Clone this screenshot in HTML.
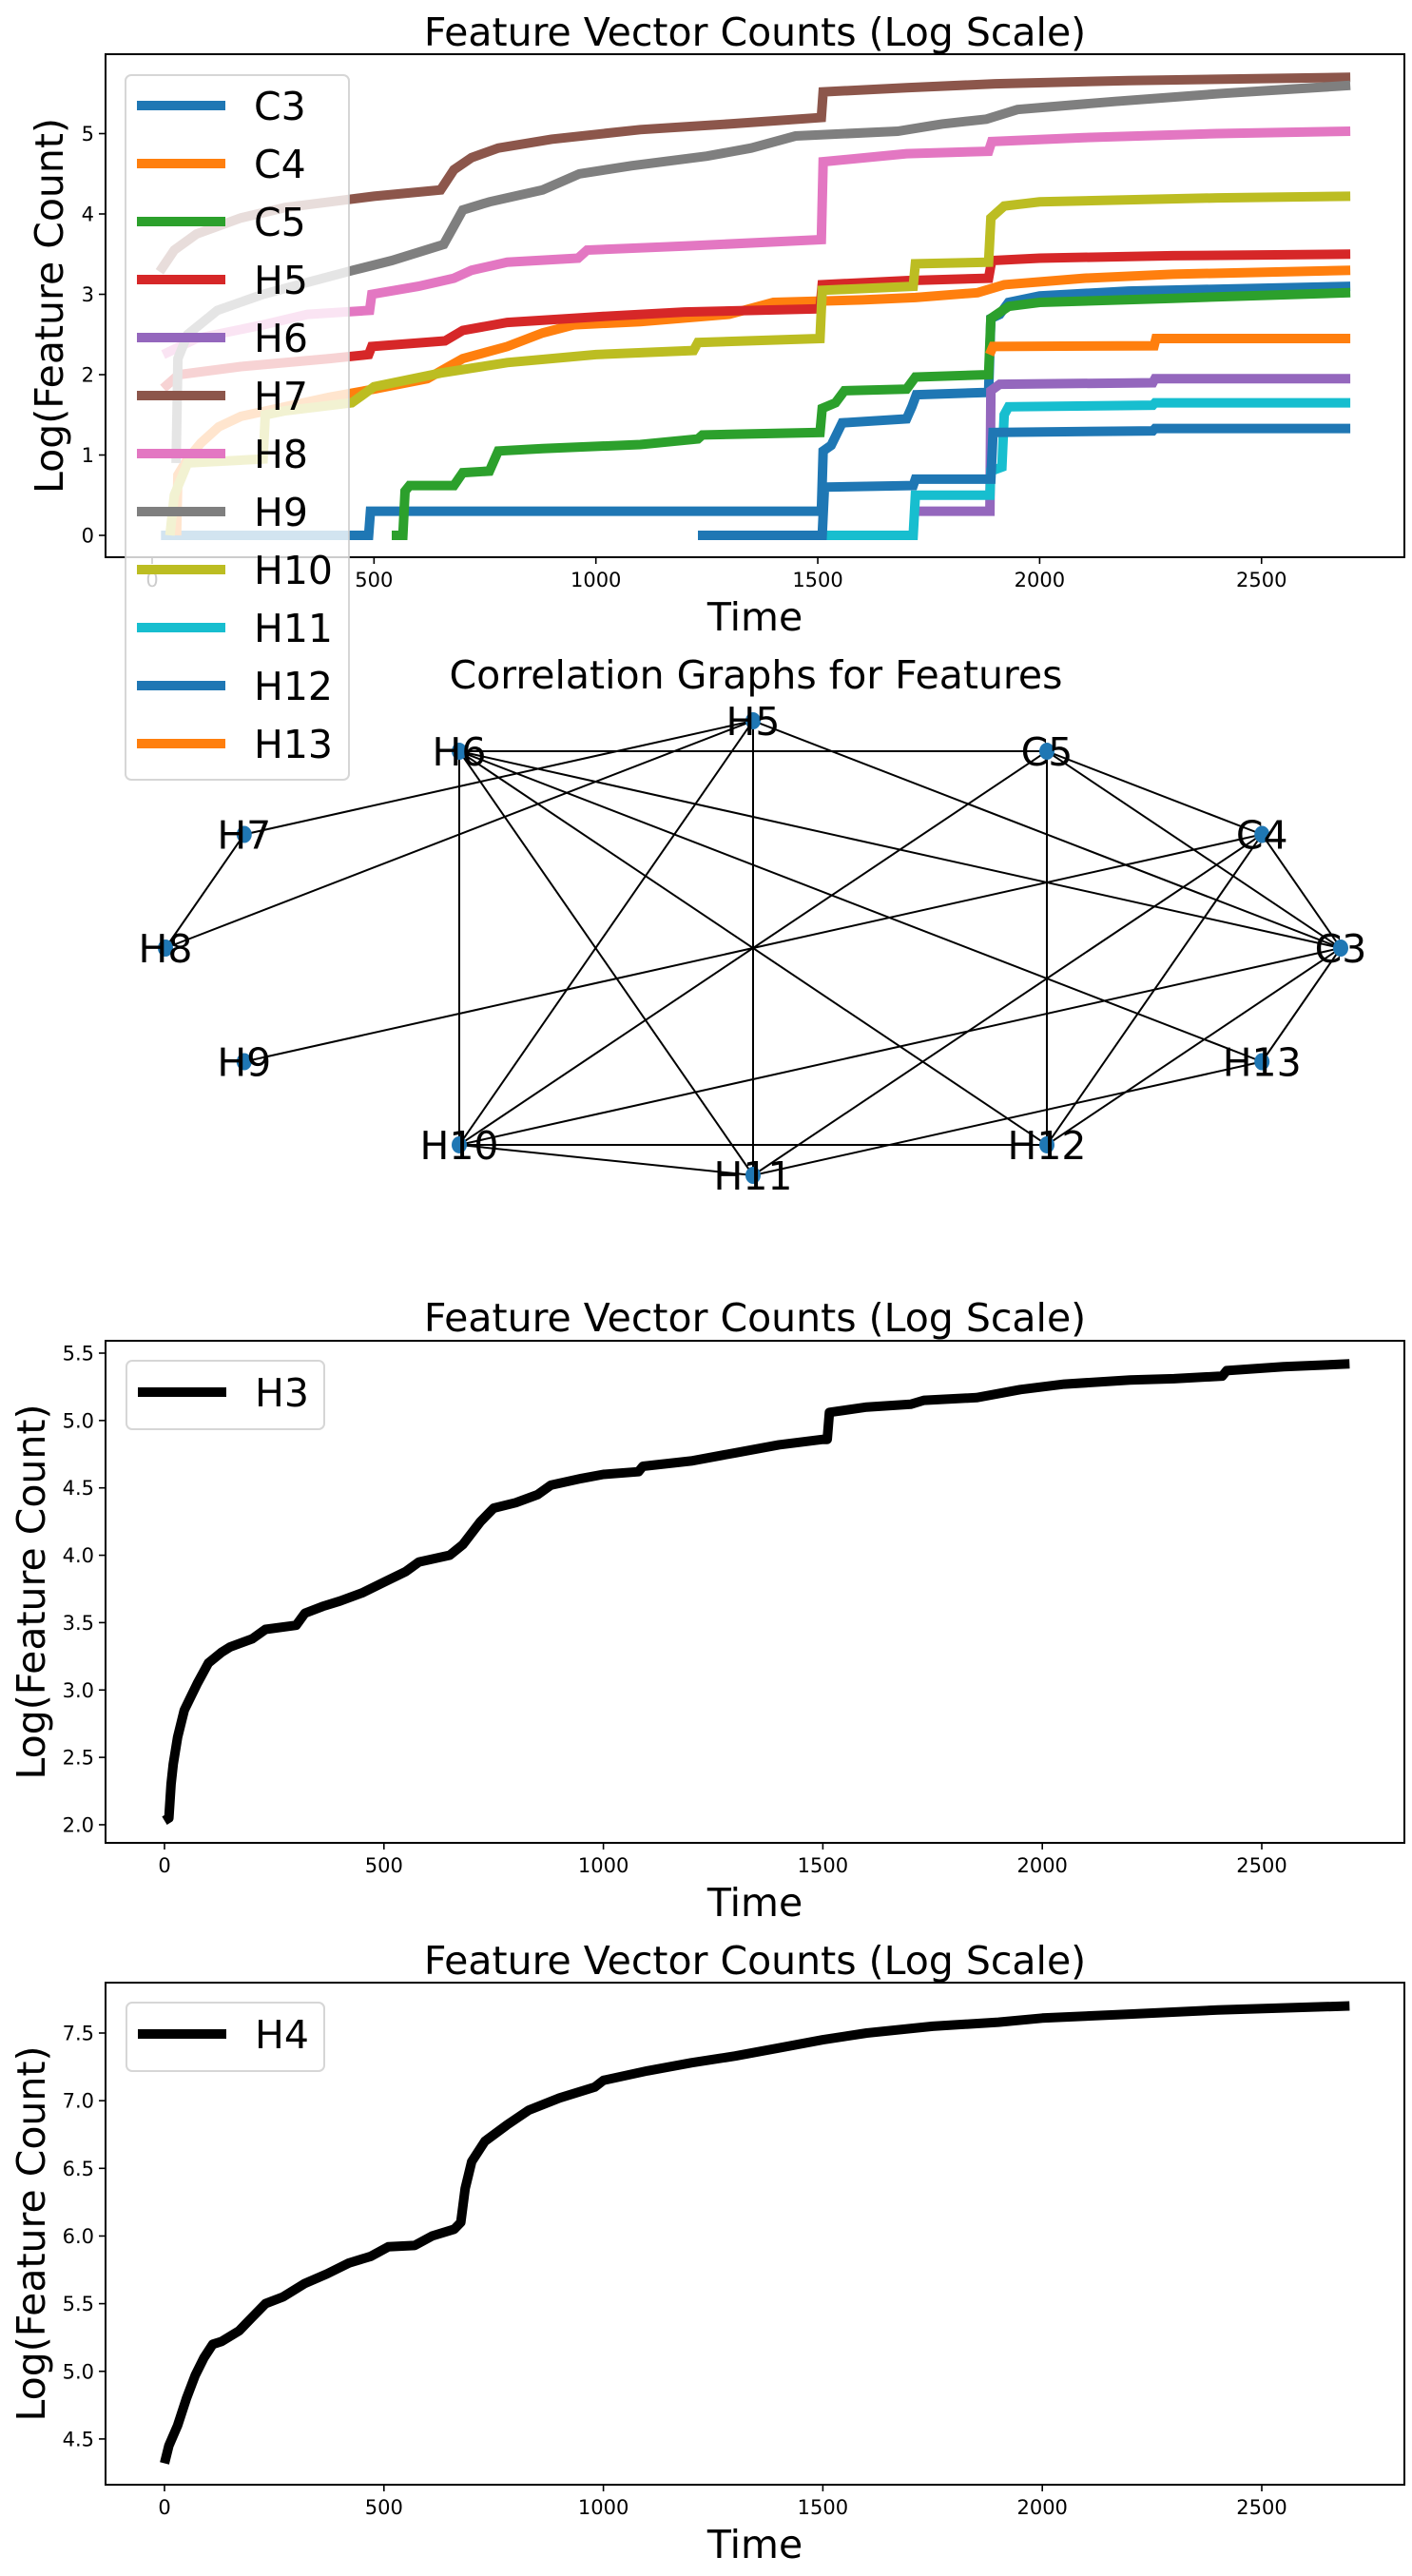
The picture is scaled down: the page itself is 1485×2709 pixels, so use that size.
<!DOCTYPE html>
<html><head><meta charset="utf-8">
<style>
html,body{margin:0;padding:0;background:#fff;}
svg{display:block;font-family:"DejaVu Sans","Liberation Sans",sans-serif;}
</style></head>
<body>
<svg id="fig" width="1485" height="2709" viewBox="0 0 1485 2709" xmlns="http://www.w3.org/2000/svg">
<rect width="1485" height="2709" fill="#fff"/>
<g id="top-chart"></g>
<g id="graph"></g>
<g id="top-legend"></g>
<g id="h3-chart"></g>
<g id="h4-chart"></g>
</svg>
<script>
// ---------- Top chart data ----------
const seriesNames = ["C3","C4","C5","H5","H6","H7","H8","H9","H10","H11","H12","H13"];
const seriesColors = ["#1f77b4","#ff7f0e","#2ca02c","#d62728","#9467bd","#8c564b","#e377c2","#7f7f7f","#bcbd22","#17becf","#1f77b4","#ff7f0e"];
const dataC3 = [[20,0],[488,0],[492,0.3],[1508,0.3],[1512,1.05],[1530,1.12],[1555,1.4],[1700,1.45],[1712,1.6],[1722,1.75],[1885,1.78],[1890,2.7],[1910,2.75],[1930,2.9],[2000,2.98],[2200,3.04],[2700,3.1]];
const dataC4 = [[55,0],[58,0.75],[80,0.95],[110,1.15],[150,1.35],[200,1.48],[300,1.6],[400,1.72],[500,1.82],[620,1.95],[700,2.2],[800,2.35],[880,2.52],[950,2.62],[1100,2.66],[1300,2.75],[1400,2.9],[1600,2.93],[1720,2.96],[1860,3.02],[1920,3.12],[2100,3.2],[2300,3.25],[2700,3.3]];
const dataC5 = [[540,0],[565,0],[570,0.55],[580,0.62],[680,0.62],[700,0.78],[760,0.8],[780,1.05],[880,1.08],[1100,1.13],[1230,1.2],[1240,1.25],[1505,1.28],[1510,1.58],[1540,1.65],[1560,1.8],[1700,1.82],[1720,1.97],[1885,2.0],[1890,2.7],[1930,2.85],[2000,2.9],[2300,2.95],[2700,3.02]];
const dataH5 = [[25,1.83],[60,2.0],[200,2.1],[400,2.2],[488,2.25],[495,2.35],[660,2.42],[700,2.55],[800,2.65],[1000,2.72],[1200,2.78],[1505,2.82],[1510,3.12],[1700,3.17],[1885,3.2],[1892,3.42],[2000,3.45],[2300,3.48],[2700,3.5]];
const dataH6 = [[1718,0.3],[1888,0.3],[1890,1.8],[1910,1.88],[2255,1.9],[2260,1.95],[2700,1.95]];
const dataH7 = [[17,3.28],[50,3.55],[100,3.75],[200,3.95],[300,4.08],[400,4.15],[500,4.22],[650,4.3],[680,4.55],[720,4.7],[780,4.82],[900,4.93],[1100,5.05],[1300,5.12],[1508,5.2],[1512,5.52],[1700,5.57],[1900,5.62],[2200,5.66],[2700,5.7]];
const dataH8 = [[25,2.25],[100,2.45],[250,2.62],[350,2.75],[490,2.8],[495,3.0],[600,3.1],[680,3.2],[720,3.3],[800,3.4],[960,3.45],[980,3.55],[1200,3.6],[1508,3.68],[1512,4.65],[1700,4.75],[1885,4.78],[1892,4.9],[2100,4.95],[2400,5.0],[2700,5.03]];
const dataH9 = [[54,0.9],[58,2.2],[80,2.5],[147,2.8],[250,3.0],[330,3.12],[453,3.3],[540,3.42],[657,3.62],[680,3.85],[700,4.05],[760,4.15],[880,4.3],[963,4.5],[1080,4.6],[1250,4.72],[1350,4.82],[1450,4.97],[1680,5.03],[1780,5.12],[1880,5.18],[1950,5.3],[2170,5.4],[2410,5.5],[2700,5.6]];
const dataH10 = [[40,0],[50,0.5],[80,0.9],[250,0.95],[255,1.5],[300,1.55],[450,1.65],[500,1.85],[650,2.02],[800,2.15],[1000,2.25],[1220,2.3],[1230,2.4],[1505,2.45],[1510,3.05],[1715,3.1],[1720,3.38],[1885,3.4],[1890,3.95],[1920,4.1],[2000,4.15],[2400,4.2],[2700,4.22]];
const dataH11 = [[1520,0],[1715,0],[1720,0.5],[1888,0.5],[1890,0.8],[1915,0.85],[1920,1.5],[1930,1.6],[2255,1.62],[2260,1.65],[2700,1.65]];
const dataH12 = [[1230,0],[1510,0],[1515,0.6],[1715,0.62],[1720,0.7],[1890,0.7],[1895,1.28],[2255,1.3],[2260,1.33],[2700,1.33]];
const dataH13 = [[1887,2.25],[1895,2.35],[2258,2.36],[2262,2.45],[2700,2.45]];
const topSeries = [dataC3,dataC4,dataC5,dataH5,dataH6,dataH7,dataH8,dataH9,dataH10,dataH11,dataH12,dataH13];
const topXTicks = [0,500,1000,1500,2000,2500];
const topYTicks = [0,1,2,3,4,5];

// ---------- Graph data ----------
const graphNodes = ["C3","C4","C5","H5","H6","H7","H8","H9","H10","H11","H12","H13"];
const graphEdges = [["H6","C5"],["H6","H10"],["H6","H11"],["H6","H12"],["H6","C3"],["H6","H13"],
  ["H5","H7"],["H5","H8"],["H5","H10"],["H5","H11"],["H5","C3"],["H7","H8"],
  ["C5","H10"],["C5","H12"],["C5","C3"],["C5","C4"],["C4","H9"],["C4","H11"],["C4","H12"],["C4","C3"],
  ["C3","H10"],["C3","H12"],["C3","H13"],["H13","H11"],["H10","H12"],["H10","H11"]];

// ---------- H3 data ----------
const h3Times = [0,10,15,20,30,45,60,75,100,130,150,200,230,300,320,360,400,450,500,550,580,650,680,720,750,800,850,880,950,1000,1080,1090,1200,1300,1400,1500,1510,1515,1600,1700,1730,1850,1950,2050,2200,2300,2410,2420,2550,2700];
const h3Values = [2.03,2.05,2.3,2.45,2.65,2.85,2.95,3.05,3.2,3.28,3.32,3.38,3.45,3.48,3.57,3.62,3.66,3.72,3.8,3.88,3.95,4.0,4.08,4.25,4.35,4.39,4.45,4.52,4.57,4.6,4.62,4.66,4.7,4.76,4.82,4.86,4.86,5.06,5.1,5.12,5.15,5.17,5.23,5.27,5.3,5.31,5.33,5.37,5.4,5.42];
const h3YTicks = ["2.0","2.5","3.0","3.5","4.0","4.5","5.0","5.5"];

// ---------- H4 data ----------
const h4Times = [0,10,30,50,70,90,110,130,170,200,230,270,320,370,420,470,510,570,610,660,675,685,700,730,780,830,900,980,1000,1100,1200,1300,1400,1500,1600,1750,1900,2000,2200,2400,2700];
const h4Values = [4.32,4.45,4.6,4.8,4.97,5.1,5.2,5.22,5.3,5.4,5.5,5.55,5.65,5.72,5.8,5.85,5.92,5.93,6.0,6.05,6.1,6.35,6.55,6.7,6.82,6.93,7.02,7.1,7.15,7.22,7.28,7.33,7.39,7.45,7.5,7.55,7.58,7.61,7.64,7.67,7.7];
const h4YTicks = ["4.5","5.0","5.5","6.0","6.5","7.0","7.5"];
const bottomXTicks = [0,500,1000,1500,2000,2500];

const NS = "http://www.w3.org/2000/svg";
function mk(tag, attrs, parent){
  const e = document.createElementNS(NS, tag);
  for (const k in attrs) e.setAttribute(k, attrs[k]);
  if (parent) parent.appendChild(e);
  return e;
}
function txt(parent, x, y, s, size, anchor, extra){
  const t = mk("text", Object.assign({x:x, y:y, "font-size":size, "text-anchor":anchor||"middle", fill:"#000"}, extra||{}), parent);
  t.textContent = s;
  return t;
}

function drawAxes(g, cfg){
  // cfg: L,R,T,B, xs, ys, xticks, yticks(values), ylabels(strings), title, titleY, ylabelX, idp
  const clipId = cfg.idp + "-clip";
  const cp = mk("clipPath", {id:clipId}, g);
  mk("rect", {x:cfg.L, y:cfg.T, width:cfg.R-cfg.L, height:cfg.B-cfg.T}, cp);
  const plot = mk("g", {"clip-path":"url(#"+clipId+")"}, g);
  
  
  // ticks x
  cfg.xticks.forEach(function(v){
    const x = cfg.xs(v);
    const tk = mk("line", {x1:x, x2:x, y1:cfg.B, y2:cfg.B+7, stroke:"#000", "stroke-width":1.6}, g);
    
    
    const t = txt(g, x, cfg.B+31, String(v), 21, "middle");
    
    
  });
  cfg.yticks.forEach(function(v, i){
    const y = cfg.ys(v);
    const tk = mk("line", {x1:cfg.L-7, x2:cfg.L, y1:y, y2:y, stroke:"#000", "stroke-width":1.6}, g);
    
    
    const t = txt(g, cfg.L-12, y+7.5, cfg.ylabels[i], 21, "end");
    
    
  });
  const fr = mk("rect", {x:cfg.L, y:cfg.T, width:cfg.R-cfg.L, height:cfg.B-cfg.T, fill:"none", stroke:"#000", "stroke-width":2}, g);
  
  
  const tt = txt(g, (cfg.L+cfg.R)/2, cfg.titleY, cfg.title, 41, "middle");
  
  
  const xl = txt(g, (cfg.L+cfg.R)/2, cfg.B+77, "Time", 41, "middle");
  
  
  const yc = (cfg.T+cfg.B)/2;
  const yl = txt(g, cfg.ylabelX, yc, "Log(Feature Count)", 41, "middle", {transform:"rotate(-90 "+cfg.ylabelX+" "+yc+")", "dominant-baseline":"central"});
  
  
  return plot;
}

function drawLegend(g, x, y, w, h, items, rowY0, rowGap){
  const box = mk("rect", {x:x, y:y, width:w, height:h, rx:6, fill:"rgba(255,255,255,0.8)", stroke:"rgba(204,204,204,0.8)", "stroke-width":2}, g);
  
  
  items.forEach(function(it, i){
    const yy = rowY0 + i*rowGap;
    const ln = mk("line", {x1:x+12, x2:x+105, y1:yy, y2:yy, stroke:it.color, "stroke-width":10}, g);
    
    
    const t = txt(g, x+135, yy+15, it.name, 41, "start");
    
    
  });
}

// ---------- Top chart ----------
(function(){
  const g = document.getElementById("top-chart");
  const L=111,R=1477,T=57,B=586;
  const xs = function(t){ return 160 + t*0.4667; };
  const ys = function(v){ return 563 - v*84.5; };
  const plot = drawAxes(g, {L:L,R:R,T:T,B:B,xs:xs,ys:ys,xticks:topXTicks,yticks:topYTicks,ylabels:topYTicks.map(String),
    title:"Feature Vector Counts (Log Scale)", titleY:48, ylabelX:52, idp:"top"});
  topSeries.forEach(function(s, i){
    const pts = s.map(function(p){ return xs(p[0]).toFixed(1)+","+ys(p[1]).toFixed(1); }).join(" ");
    const pl = mk("polyline", {points:pts, fill:"none", stroke:seriesColors[i], "stroke-width":10, "stroke-linejoin":"miter"}, plot);
    
    
  });
  const lg = document.getElementById("top-legend");
  drawLegend(lg, 132, 79, 235, 741, seriesNames.map(function(n,i){ return {name:n, color:seriesColors[i]}; }), 111, 61);
})();

// ---------- Correlation graph ----------
(function(){
  const g = document.getElementById("graph");
  const cx = 792, cy = 997, rx = 618, ry = 239;
  const pos = {};
  graphNodes.forEach(function(n, i){
    const a = i * Math.PI / 6;
    pos[n] = [cx + rx*Math.cos(a), cy - ry*Math.sin(a)];
  });
  const tt = txt(g, 795, 724, "Correlation Graphs for Features", 41, "middle");
  
  
  graphEdges.forEach(function(e){
    const a = pos[e[0]], b = pos[e[1]];
    const ln = mk("line", {x1:a[0], y1:a[1], x2:b[0], y2:b[1], stroke:"#000", "stroke-width":2}, g);
    
    
  });
  graphNodes.forEach(function(n){
    const p = pos[n];
    const c = mk("ellipse", {cx:p[0], cy:p[1], rx:8, ry:9, fill:"#1f77b4"}, g);
    
    
    const t = txt(g, p[0], p[1]+15, n, 41, "middle");
    
    
  });
})();

// ---------- Bottom charts ----------
function bottomChart(id, T, B, vTop, yTop, perUnit, times, values, yticks, label, titleY, legendY){
  const g = document.getElementById(id);
  const L=111, R=1477;
  const xs = function(t){ return 173 + t*0.4616; };
  const ys = function(v){ return yTop + (vTop - v)*perUnit; };
  const plot = drawAxes(g, {L:L,R:R,T:T,B:B,xs:xs,ys:ys,xticks:bottomXTicks,
    yticks:yticks.map(Number), ylabels:yticks, title:"Feature Vector Counts (Log Scale)", titleY:titleY, ylabelX:33, idp:id});
  const pts = times.map(function(t, i){ return xs(t).toFixed(1)+","+ys(values[i]).toFixed(1); }).join(" ");
  const pl = mk("polyline", {points:pts, fill:"none", stroke:"#000", "stroke-width":10, "stroke-linejoin":"round"}, plot);
  
  
  const lg = mk("g", {}, g);
  
  
  drawLegend(lg, 133, legendY, 208, 72, [{name:label, color:"#000"}], legendY+33, 0);
}
bottomChart("h3-chart", 1410, 1938, 5.5, 1423, 141.7, h3Times, h3Values, h3YTicks, "H3", 1400, 1431);
bottomChart("h4-chart", 2085, 2613, 7.5, 2138, 142.3, h4Times, h4Values, h4YTicks, "H4", 2076, 2106);
</script>
</body></html>
